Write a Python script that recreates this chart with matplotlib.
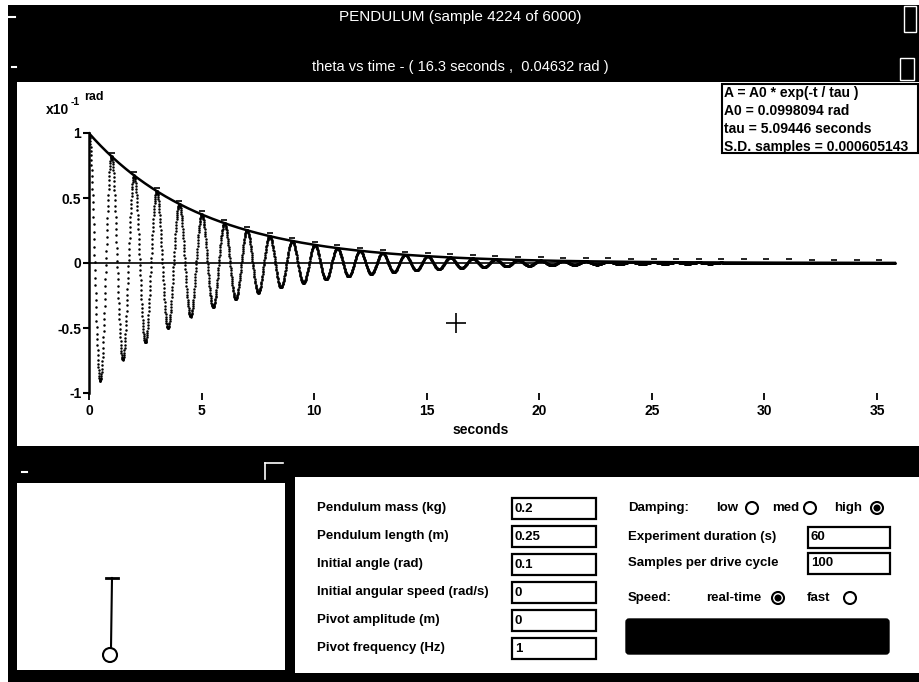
import numpy as np
import matplotlib.pyplot as plt
from matplotlib import font_manager
from matplotlib.patches import Rectangle, Circle, FancyBboxPatch

plt.rcParams['font.family'] = ['Liberation Sans', 'DejaVu Sans']
names = {f.name for f in font_manager.fontManager.ttflist}
NARROW = 'Liberation Sans Narrow' if 'Liberation Sans Narrow' in names else 'Liberation Sans'

W, H = 920, 682

# fit results shown in the box
A0 = 0.0998094          # rad
tau = 5.09446           # seconds
sd_samples = 0.000605143
# settings from the control panel
mass = 0.2
length = 0.25
init_angle = 0.1
init_speed = 0
pivot_amp = 0
pivot_freq = 1
duration = 60
samples_per_cycle = 100
g = 9.81
t_shown = 35.8          # last sample on screen (s)
cursor_t, cursor_v = 16.3, -0.4632   # cursor, in 1e-1 rad

xticks = [0, 5, 10, 15, 20, 25, 30, 35]
yticks = [-1, -0.5, 0, 0.5, 1]
ytick_labels = ['-1', '-0.5', '0', '0.5', '1']

left_labels = ['Pendulum mass (kg)', 'Pendulum length (m)', 'Initial angle (rad)',
               'Initial angular speed (rad/s)', 'Pivot amplitude (m)', 'Pivot frequency (Hz)']
left_values = ['0.2', '0.25', '0.1', '0', '0', '1']

# samples of theta (scaled to 1e-1 rad) using the fitted decay
t = np.arange(0, t_shown, 1.0 / (samples_per_cycle * pivot_freq))
w = np.sqrt(g / length)
theta = 10 * A0 * np.exp(-t / tau) * np.cos(w * t)
env = 10 * A0 * np.exp(-t / tau)
t_peaks = np.arange(1, int(t_shown * w / (2 * np.pi)) + 1) * 2 * np.pi / w
peaks = 10 * A0 * np.exp(-t_peaks / tau)

fig = plt.figure(figsize=(W / 100, H / 100), dpi=100)
fig.patch.set_facecolor('white')

# window chrome in pixel coordinates
bg = fig.add_axes([0, 0, 1, 1])
bg.set_xlim(0, W)
bg.set_ylim(H, 0)
bg.axis('off')

bg.add_patch(Rectangle((8, 5), W - 8, H - 5, fc='black', ec='none'))
bg.add_patch(Rectangle((17, 82), W - 17, 364, fc='white', ec='none'))
bg.add_patch(Rectangle((17, 483), 268, 187, fc='white', ec='none'))
bg.add_patch(Rectangle((295, 477), W - 295, 196, fc='white', ec='none'))

# title bars
bg.plot([9, 15], [17, 17], color='white', lw=1.5)
bg.text(460, 17, 'PENDULUM (sample 4224 of 6000)', color='white', fontsize=11,
        family=NARROW, ha='center', va='center')
bg.add_patch(Rectangle((904, 6), 12, 26, fill=False, ec='white', lw=1))
bg.plot([12, 16], [67, 67], color='white', lw=1.5)
bg.text(460, 67, 'theta vs time - ( 16.3 seconds ,  0.04632 rad )', color='white',
        fontsize=10.5, family=NARROW, ha='center', va='center')
bg.add_patch(Rectangle((900, 58), 14, 22, fill=False, ec='white', lw=1))

# lower window bar
bg.plot([22, 27], [472, 472], color='white', lw=1.5)
bg.plot([265, 283], [463, 463], color='white', lw=1.2)
bg.plot([265, 265], [463, 479], color='white', lw=1.2)

# axis annotation
bg.text(46, 114, 'x10', fontsize=10, fontweight='bold', va='baseline')
bg.text(71, 105, '-1', fontsize=7.5, fontweight='bold', va='baseline')
bg.text(84, 100, 'rad', fontsize=9, fontweight='bold', va='baseline')
bg.text(481, 430, 'seconds', fontsize=10, fontweight='bold', ha='center', va='center')

# fit box
bg.add_patch(Rectangle((722, 84), 196, 69, fc='white', ec='black', lw=1.5, zorder=5))
fit_lines = ['A = A0 * exp(-t / tau )', 'A0 = %.7f rad' % A0,
             'tau = %.5f seconds' % tau, 'S.D. samples = %.9f' % sd_samples]
for i, s in enumerate(fit_lines):
    bg.text(724, 93 + i * 18, s, fontsize=10, fontweight='bold', va='center', zorder=6)

# pendulum sketch
bg.plot([106, 118], [578, 578], color='black', lw=2)
bg.plot([112, 111], [578, 648], color='black', lw=1.5)
bg.add_patch(Circle((110, 655), 7, fill=False, ec='black', lw=1.5))

# control panel
for i, (lab, val) in enumerate(zip(left_labels, left_values)):
    y = 508 + i * 28
    bg.text(317, y, lab, fontsize=9.5, fontweight='bold', va='center')
    bg.add_patch(Rectangle((512, y - 10), 84, 21, fill=False, ec='black', lw=1.6))
    bg.text(515, y + 0.5, val, fontsize=9.5, fontweight='bold', va='center')

bg.text(628, 508, 'Damping:', fontsize=9.5, fontweight='bold', va='center')
radio = [('low', 716, 752, False), ('med', 772, 810, False), ('high', 834, 877, True)]
for lab, xt, xc, on in radio:
    bg.text(xt, 508, lab, fontsize=9.5, fontweight='bold', va='center')
    bg.add_patch(Circle((xc, 508), 6, fill=False, ec='black', lw=1.5))
    if on:
        bg.add_patch(Circle((xc, 508), 3.5, fc='black', ec='none'))

bg.text(628, 537, 'Experiment duration (s)', fontsize=9.5, fontweight='bold', va='center')
bg.add_patch(Rectangle((808, 527), 82, 21, fill=False, ec='black', lw=1.6))
bg.text(811, 537.5, str(duration), fontsize=9.5, fontweight='bold', va='center')
bg.text(628, 563, 'Samples per drive cycle', fontsize=9.5, fontweight='bold', va='center')
bg.add_patch(Rectangle((808, 553), 82, 21, fill=False, ec='black', lw=1.6))
bg.text(811, 563.5, str(samples_per_cycle), fontsize=9.5, fontweight='bold', va='center')

bg.text(628, 598, 'Speed:', fontsize=9.5, fontweight='bold', va='center')
speed = [('real-time', 706, 778, True), ('fast', 807, 850, False)]
for lab, xt, xc, on in speed:
    bg.text(xt, 598, lab, fontsize=9.5, fontweight='bold', va='center')
    bg.add_patch(Circle((xc, 598), 6, fill=False, ec='black', lw=1.5))
    if on:
        bg.add_patch(Circle((xc, 598), 3.5, fc='black', ec='none'))
bg.add_patch(FancyBboxPatch((626, 619), 263, 35, boxstyle='round,pad=0,rounding_size=3',
                            fc='black', ec='black', lw=1))

# data axes: x 0..36 s, y -1.05..1.05 (x1e-1 rad)
px_per_s = 788 / 35.0
x0_px, y1_px, y0_px = 89, 263 - 1.05 * 130, 263 + 1.05 * 130
ax = fig.add_axes([x0_px / W, (H - y0_px) / H, 36 * px_per_s / W, (y0_px - y1_px) / H])
ax.set_xlim(0, 36)
ax.set_ylim(-1.05, 1.05)
ax.patch.set_alpha(0)

ax.plot(t, theta, linestyle='none', marker='o', ms=1.8, mew=0, color='black')
ax.plot(t, env, color='black', lw=1.8)
ax.axhline(0, xmin=0, xmax=t_shown / 36, color='black', lw=1.2)
ax.plot(t_peaks, peaks + 0.025, linestyle='none', marker='_', ms=5, mew=1.2, color='black')
ax.plot(cursor_t, cursor_v, marker='+', ms=14, mew=1.2, color='black')

for side in ['top', 'right']:
    ax.spines[side].set_visible(False)
ax.spines['left'].set_bounds(-1, 1)
ax.spines['left'].set_linewidth(1.8)
ax.spines['bottom'].set_position(('data', -1))
ax.spines['bottom'].set_color('none')

ax.set_xticks(xticks)
ax.set_xticklabels([str(v) for v in xticks])
ax.set_yticks(yticks)
ax.set_yticklabels(ytick_labels)
ax.tick_params(axis='y', direction='out', length=4.5, width=1.5, pad=1, labelsize=10)
ax.tick_params(axis='x', direction='out', length=5, width=1.3, pad=3, labelsize=10, color='black')
for lab in ax.get_xticklabels() + ax.get_yticklabels():
    lab.set_fontweight('bold')

fig.savefig('out.png', dpi=100)
